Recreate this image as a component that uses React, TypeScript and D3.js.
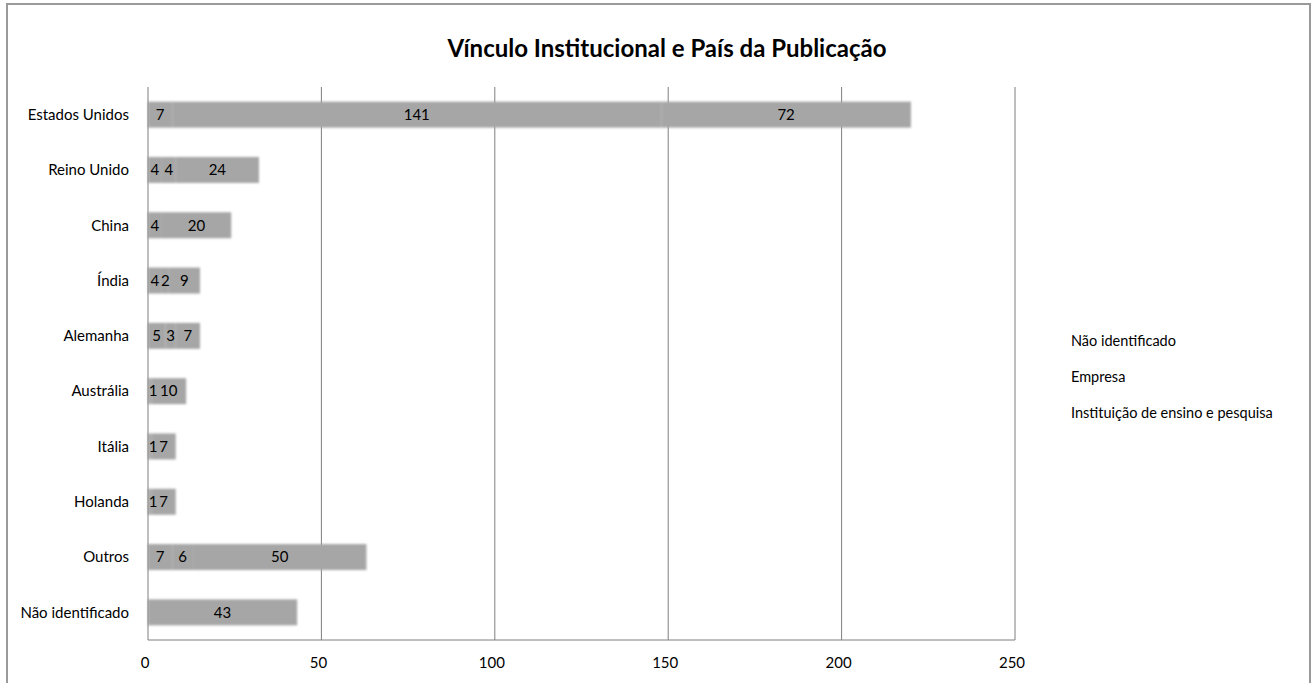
import React from "react";
import * as d3 from "d3";

const title = "Vínculo Institucional e País da Publicação";
const categories = [
  "Estados Unidos",
  "Reino Unido",
  "China",
  "Índia",
  "Alemanha",
  "Austrália",
  "Itália",
  "Holanda",
  "Outros",
  "Não identificado",
];
const seriesNames = ["Não identificado", "Empresa", "Instituição de ensino e pesquisa"];
const naoIdentificado = [7, 4, 4, 4, 5, 1, 1, 1, 7, 43];
const empresa = [141, 4, 0, 2, 3, 0, 0, 0, 6, 0];
const instituicao = [72, 24, 20, 9, 7, 10, 7, 7, 50, 0];
const xTicks = [0, 50, 100, 150, 200, 250];

const W = 1316;
const H = 683;
const left = 148;
const right = 1015;
const top = 87;
const bottom = 640;
const FONT = "Lato, 'Open Sans', sans-serif";

export default function App() {
  const x = d3.scaleLinear().domain([0, 250]).range([left, right]);
  const y = d3
    .scaleBand<string>()
    .domain(categories)
    .range([top, bottom])
    .paddingInner(0.53)
    .paddingOuter(0.265);

  const rows = categories.map((c, i) => ({
    cat: c,
    s0: naoIdentificado[i],
    s1: empresa[i],
    s2: instituicao[i],
  }));
  const stack = d3.stack<any>().keys(["s0", "s1", "s2"]);
  const stacked = stack(rows);

  return (
    <svg
      width={W}
      height={H}
      style={{ position: "absolute", left: 0, top: 0, background: "#fff" }}
      fontFamily={FONT}
    >
      <defs>
        <filter id="soft" x="-5%" y="-30%" width="110%" height="160%">
          <feGaussianBlur in="SourceGraphic" stdDeviation="1.2" />
        </filter>
      </defs>
      <rect x={7} y={4} width={1303} height={700} fill="#fff" stroke="#9a9a9a" strokeWidth={2} />
      <text x={667} y={57} textAnchor="middle" fontSize={24} fontWeight="bold" fill="#000">
        {title}
      </text>
      {/* gridlines */}
      {xTicks.slice(1).map((t) => (
        <line key={t} x1={x(t)} x2={x(t)} y1={top} y2={bottom} stroke="#7f7f7f" strokeWidth={1} />
      ))}
      {/* bars */}
      <g filter="url(#soft)">
        {stacked.map((layer) =>
          layer.map((d, i) =>
            d[1] - d[0] > 0 ? (
              <rect
                key={layer.key + i}
                x={x(d[0])}
                y={y(categories[i])!}
                width={x(d[1]) - x(d[0])}
                height={y.bandwidth()}
                fill="#a6a6a6"
              />
            ) : null
          )
        )}
      </g>
      {/* axes */}
      <line x1={left} x2={left} y1={top} y2={bottom} stroke="#7f7f7f" />
      <line x1={left} x2={right} y1={bottom} y2={bottom} stroke="#7f7f7f" />
      {/* value labels */}
      {stacked.map((layer) =>
        layer.map((d, i) =>
          d[1] - d[0] > 0 ? (
            <text
              key={"l" + layer.key + i}
              x={Math.max((x(d[0]) + x(d[1])) / 2, left + 5)}
              y={y(categories[i])! + y.bandwidth() / 2}
              dy="0.35em"
              textAnchor="middle"
              fontSize={15}
              fill="#000"
            >
              {d[1] - d[0]}
            </text>
          ) : null
        )
      )}
      {/* category labels */}
      {categories.map((c) => (
        <text
          key={c}
          x={129}
          y={y(c)! + y.bandwidth() / 2}
          dy="0.35em"
          textAnchor="end"
          fontSize={15}
          fill="#000"
        >
          {c}
        </text>
      ))}
      {/* x tick labels */}
      {xTicks.map((t) => (
        <text key={t} x={x(t) - 3} y={663} dy="0.35em" textAnchor="middle" fontSize={15} fill="#000">
          {t}
        </text>
      ))}
      {/* legend */}
      {seriesNames.map((s, i) => (
        <text key={s} x={1071} y={341 + i * 36} dy="0.35em" fontSize={14.5} fill="#000">
          {s}
        </text>
      ))}
    </svg>
  );
}
